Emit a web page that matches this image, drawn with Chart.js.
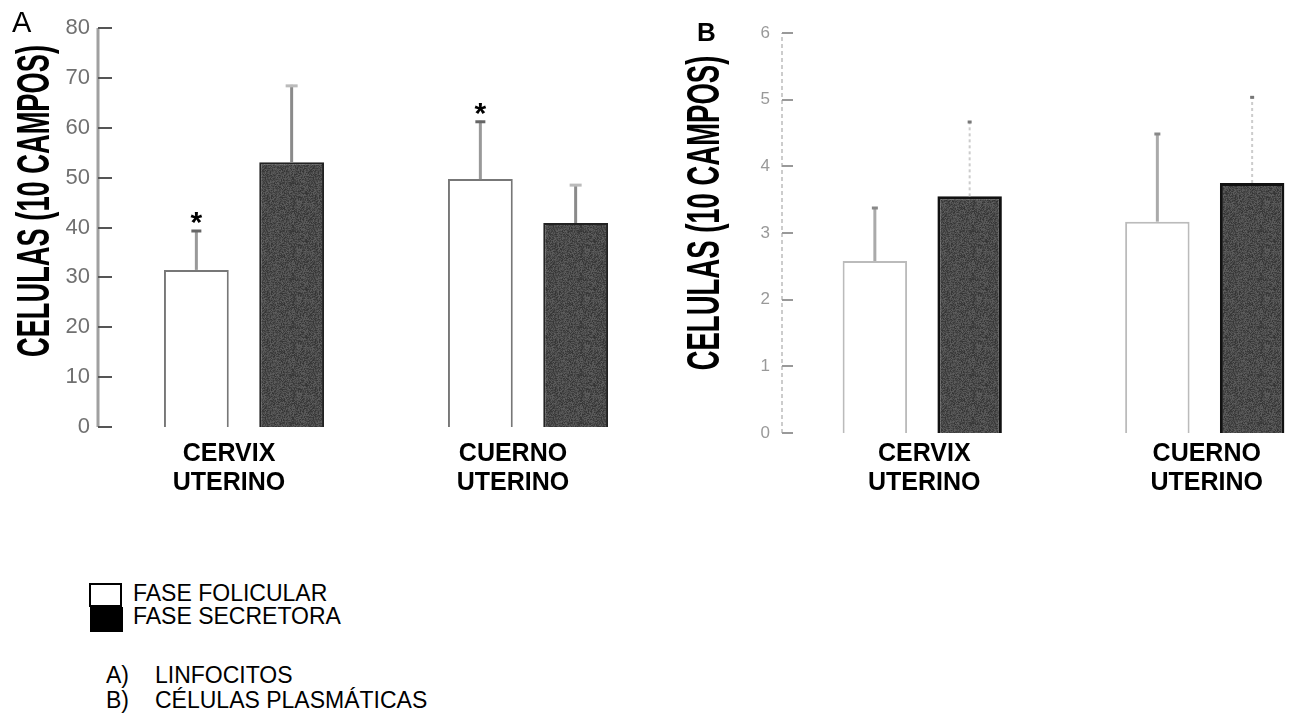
<!DOCTYPE html>
<html>
<head>
<meta charset="utf-8">
<script src="https://cdn.jsdelivr.net/npm/chart.js@4.4.0/dist/chart.umd.min.js"></script>
<style>
  html, body { margin: 0; padding: 0; background: #fff; }
  body { width: 1298px; height: 719px; overflow: hidden; position: relative; font-family: "Liberation Sans", Arial, sans-serif; }
  canvas { position: absolute; }
  .t { position: absolute; white-space: nowrap; color: #000; }
  .ytitle { position: absolute; width: 600px; height: 50px; line-height: 50px; text-align: center; font-weight: bold; font-size: 47px; white-space: nowrap; color: #000; }
</style>
</head>
<body>
<canvas id="chartA" width="670" height="520" style="left:0px;top:0px;"></canvas>
<canvas id="chartB" width="666" height="520" style="left:680px;top:0px;"></canvas>

<div class="t" style="left:12px;top:8px;font-size:29px;line-height:29px;">A</div>
<div class="t" style="left:697px;top:19px;font-size:26px;line-height:26px;font-weight:bold;">B</div>

<div class="ytitle" style="left:-267px;top:176px;transform:rotate(-90deg) scaleX(0.58);">CELULAS (10 CAMPOS)</div>
<div class="ytitle" style="left:403px;top:188px;transform:rotate(-90deg) scaleX(0.585);">CELULAS (10 CAMPOS)</div>

<div style="position:absolute;left:89px;top:583px;width:29px;height:20px;border:2px solid #000;background:#fff;"></div>
<div style="position:absolute;left:90px;top:607px;width:33px;height:25px;background:#000;"></div>
<div class="t" style="left:133px;top:582px;font-size:23px;line-height:23px;">FASE FOLICULAR</div>
<div class="t" style="left:133px;top:605px;font-size:23px;line-height:23px;">FASE SECRETORA</div>
<div class="t" style="left:106px;top:664px;font-size:23px;line-height:23px;">A)</div>
<div class="t" style="left:155px;top:664px;font-size:23px;line-height:23px;">LINFOCITOS</div>
<div class="t" style="left:106px;top:689px;font-size:23px;line-height:23px;">B)</div>
<div class="t" style="left:155px;top:689px;font-size:23px;line-height:23px;">CÉLULAS PLASMÁTICAS</div>

<script>
// ---------- data ----------
const categories = [["CERVIX", "UTERINO"], ["CUERNO", "UTERINO"]];
const seriesNames = ["FASE FOLICULAR", "FASE SECRETORA"];

// A) Linfocitos
const linfFolicular = [31.5, 49.7];
const linfFolicularErr = [8.0, 11.7];
const linfSecretora = [53.1, 40.9];
const linfSecretoraErr = [15.5, 7.8];
const linfFolicularSignif = [true, true];
const linfSecretoraSignif = [false, false];
const yTicksA = [0, 10, 20, 30, 40, 50, 60, 70, 80];

// B) Celulas plasmaticas
const plasmFolicular = [2.58, 3.17];
const plasmFolicularErr = [0.81, 1.33];
const plasmSecretora = [3.55, 3.75];
const plasmSecretoraErr = [1.13, 1.30];
const plasmFolicularSignif = [false, false];
const plasmSecretoraSignif = [false, false];
const yTicksB = [0, 1, 2, 3, 4, 5, 6];

const FONT = "'Liberation Sans', Arial, sans-serif";

// deterministic grainy fill for the dark bars (printed-photocopy look)
function grainPattern(ctxTarget) {
  const c = document.createElement('canvas');
  c.width = 48; c.height = 48;
  const g = c.getContext('2d');
  const img = g.createImageData(48, 48);
  for (let y = 0; y < 48; y++) {
    for (let x = 0; x < 48; x++) {
      let h = Math.imul(x + 11, 73856093) ^ Math.imul(y + 7, 19349663);
      h = Math.imul(h ^ (h >>> 13), 1274126177);
      h = (h ^ (h >>> 16)) >>> 0;
      const v = 74 + ((h % 44) - 22);
      const k = (y * 48 + x) * 4;
      img.data[k] = v; img.data[k + 1] = v; img.data[k + 2] = v; img.data[k + 3] = 255;
    }
  }
  g.putImageData(img, 0, 0);
  return ctxTarget.createPattern(c, 'repeat');
}

function errorBarPlugin(styles) {
  return {
    id: 'errbars',
    afterDatasetsDraw(chart) {
      const ctx = chart.ctx;
      const y = chart.scales.y;
      chart.data.datasets.forEach((ds, i) => {
        const meta = chart.getDatasetMeta(i);
        const st = styles[i];
        meta.data.forEach((bar, j) => {
          const v = ds.data[j], e = ds.errors[j];
          const yTop = y.getPixelForValue(v + e);
          const yBase = bar.y;
          ctx.save();
          ctx.strokeStyle = st.lineColor;
          ctx.lineWidth = st.lineWidth;
          if (st.dash) ctx.setLineDash(st.dash);
          ctx.beginPath();
          ctx.moveTo(bar.x, yBase);
          ctx.lineTo(bar.x, yTop);
          ctx.stroke();
          ctx.setLineDash([]);
          ctx.strokeStyle = st.capColor;
          ctx.lineWidth = 3;
          ctx.beginPath();
          ctx.moveTo(bar.x - st.capHalf, yTop + 1);
          ctx.lineTo(bar.x + st.capHalf, yTop + 1);
          ctx.stroke();
          if (ds.signif && ds.signif[j]) {
            ctx.fillStyle = '#000';
            ctx.font = 'bold 30px ' + FONT;
            ctx.textAlign = 'center';
            ctx.textBaseline = 'alphabetic';
            ctx.fillText('*', bar.x, yTop - 15 + 17);
          }
          ctx.restore();
        });
      });
    }
  };
}

function axisPlugin(opt) {
  return {
    id: 'yaxisline',
    afterDraw(chart) {
      const ctx = chart.ctx;
      const y = chart.scales.y;
      const ax = chart.chartArea.left + opt.shift;
      ctx.save();
      ctx.strokeStyle = opt.lineColor;
      ctx.lineWidth = opt.lineWidth;
      if (opt.dash) ctx.setLineDash(opt.dash);
      ctx.beginPath();
      ctx.moveTo(ax, y.getPixelForValue(y.min));
      ctx.lineTo(ax, y.getPixelForValue(y.max));
      ctx.stroke();
      ctx.setLineDash([]);
      ctx.strokeStyle = opt.tickColor;
      ctx.lineWidth = 2;
      y.ticks.forEach(t => {
        const py = Math.round(y.getPixelForValue(t.value));
        ctx.beginPath();
        ctx.moveTo(ax, py);
        ctx.lineTo(ax + opt.tickLen, py);
        ctx.stroke();
      });
      ctx.restore();
    }
  };
}

function makeChart(id, cfg) {
  const canvas = document.getElementById(id);
  const pat = grainPattern(canvas.getContext('2d'));
  return new Chart(canvas, {
    type: 'bar',
    data: {
      labels: categories,
      datasets: [
        {
          label: seriesNames[0],
          data: cfg.fol, errors: cfg.folErr, signif: cfg.folSig,
          backgroundColor: '#ffffff', borderColor: cfg.folBorder, borderWidth: 2,
          categoryPercentage: 0.671, barPercentage: 0.68
        },
        {
          label: seriesNames[1],
          data: cfg.sec, errors: cfg.secErr, signif: cfg.secSig,
          backgroundColor: pat, borderColor: cfg.secBorder, borderWidth: cfg.secBorderWidth,
          categoryPercentage: 0.671, barPercentage: 0.68
        }
      ]
    },
    options: {
      responsive: false,
      animation: false,
      devicePixelRatio: 1,
      layout: { padding: { top: cfg.padTop, right: 0, bottom: 0, left: 0 } },
      plugins: { legend: { display: false }, tooltip: { enabled: false } },
      scales: {
        x: {
          grid: { display: false, drawTicks: false },
          border: { display: false },
          ticks: {
            color: '#000',
            font: { family: FONT, size: 25, weight: 'bold', lineHeight: 1.16 },
            padding: cfg.xPad,
            labelOffset: cfg.labelOffset,
            maxRotation: 0, minRotation: 0, autoSkip: false
          },
          afterFit(s) { s.height = cfg.xHeight; }
        },
        y: {
          min: 0, max: cfg.yTicks[cfg.yTicks.length - 1],
          afterBuildTicks(s) { s.ticks = cfg.yTicks.map(v => ({ value: v })); },
          grid: { display: false, drawTicks: false },
          border: { display: false },
          ticks: {
            color: cfg.tickColor,
            font: { family: FONT, size: cfg.tickSize },
            padding: cfg.yPad
          },
          afterFit(s) { s.width = cfg.yWidth; }
        }
      }
    },
    plugins: [errorBarPlugin(cfg.errStyles), axisPlugin(cfg.axis)]
  });
}

makeChart('chartA', {
  fol: linfFolicular, folErr: linfFolicularErr, folSig: linfFolicularSignif,
  sec: linfSecretora, secErr: linfSecretoraErr, secSig: linfSecretoraSignif,
  folBorder: '#777777', secBorder: '#222222', secBorderWidth: 2,
  yTicks: yTicksA, padTop: 28, xHeight: 93, yWidth: 102, xPad: 13, labelOffset: -15,
  tickColor: '#707070', tickSize: 22, yPad: 12,
  errStyles: [
    { lineColor: '#999999', lineWidth: 3, capColor: '#666666', capHalf: 5 },
    { lineColor: '#8a8a8a', lineWidth: 3, capColor: '#bbbbbb', capHalf: 6 }
  ],
  axis: { shift: -4, lineColor: '#a0a0a0', lineWidth: 3, tickColor: '#555555', tickLen: 14 }
});

makeChart('chartB', {
  fol: plasmFolicular, folErr: plasmFolicularErr, folSig: plasmFolicularSignif,
  sec: plasmSecretora, secErr: plasmSecretoraErr, secSig: plasmSecretoraSignif,
  folBorder: '#bbbbbb', secBorder: '#111111', secBorderWidth: 3,
  yTicks: yTicksB, padTop: 33, xHeight: 87, yWidth: 101, xPad: 7, labelOffset: 2,
  tickColor: '#999999', tickSize: 17, yPad: 11,
  errStyles: [
    { lineColor: '#aaaaaa', lineWidth: 3, capColor: '#888888', capHalf: 3 },
    { lineColor: '#cccccc', lineWidth: 2, capColor: '#777777', capHalf: 2, dash: [3, 3] }
  ],
  axis: { shift: 1, lineColor: '#cccccc', lineWidth: 2, tickColor: '#999999', tickLen: 11, dash: [4, 3] }
});
</script>
</body>
</html>
